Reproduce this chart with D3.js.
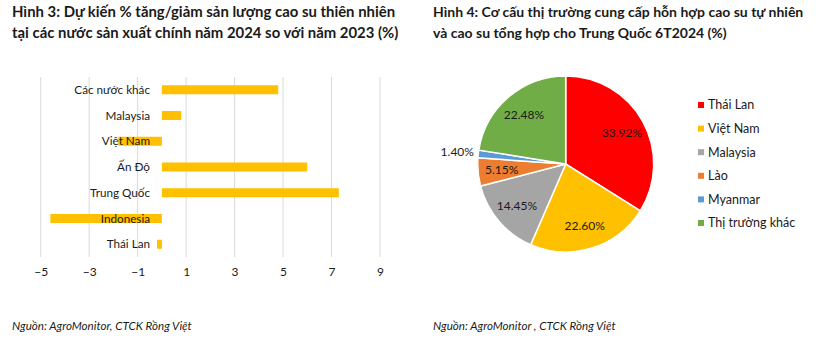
<!DOCTYPE html>
<html><head><meta charset="utf-8">
<script src="https://cdn.jsdelivr.net/npm/d3@7"></script>
<style>
body{margin:0;background:#fff;}
svg{display:block;font-family:Lato,"Noto Sans",sans-serif;}
</style></head>
<body>
<svg id="c" width="816" height="339"></svg>
<script>
// ---- data ----
const barCategories = ["Các nước khác","Malaysia","Việt Nam","Ấn Độ","Trung Quốc","Indonesia","Thái Lan"];
const barValues = [4.8, 0.8, -1.8, 6.0, 7.3, -4.6, -0.2];
const barTicks = [-5,-3,-1,1,3,5,7,9];

const pieLabels = ["Thái Lan","Việt Nam","Malaysia","Lào","Myanmar","Thị trường khác"];
const pieValues = [33.92, 22.60, 14.45, 5.15, 1.40, 22.48];
const pieColors = ["#FF0000","#FFC000","#A5A5A5","#ED7D31","#5B9BD5","#70AD47"];

const title1 = ["Hình 3: Dự kiến % tăng/giảm sản lượng cao su thiên nhiên","tại các nước sản xuất chính năm 2024 so với năm 2023 (%)"];
const title2 = ["Hình 4: Cơ cấu thị trường cung cấp hỗn hợp cao su tự nhiên","và cao su tổng hợp cho Trung Quốc 6T2024 (%)"];
const source1 = "Nguồn: AgroMonitor, CTCK Rồng Việt";
const source2 = "Nguồn: AgroMonitor , CTCK Rồng Việt";

const svg = d3.select("#c");

// titles
function title(lines, x, fs){
  const t = svg.append("text").attr("x",x).attr("y",17).attr("font-weight","bold")
    .attr("font-size",fs).attr("fill","#1a1a1a");
  lines.forEach((l,i)=>t.append("tspan").attr("x",x).attr("y",17+i*21).text(l));
}
title(title1, 12, 14.9);
title(title2, 433, 14);

// sources
[[source1,12],[source2,433]].forEach(([s,x])=>{
  svg.append("text").attr("x",x).attr("y",330).attr("font-style","italic")
    .attr("font-size",11.6).attr("fill","#1a1a1a").text(s);
});

// ---- bar chart ----
const x = d3.scaleLinear().domain([-5,9]).range([40.7,380]);
const y = d3.scaleBand().domain(barCategories).range([77,257]).paddingInner(0.65).paddingOuter(0.32);

const gGrid = svg.append("g");
gGrid.selectAll("line").data(barTicks).join("line")
  .attr("x1",d=>x(d)).attr("x2",d=>x(d)).attr("y1",77).attr("y2",257)
  .attr("stroke","#d9d9d9").attr("stroke-width",1);

const xAxis = svg.append("g").attr("transform","translate(0,257)")
  .call(d3.axisBottom(x).tickValues(barTicks).tickSize(0).tickPadding(10).tickFormat(d3.format("d")));
xAxis.select(".domain").remove();
xAxis.selectAll("text").attr("font-size",12).attr("fill","#1a1a1a").attr("font-family","Lato,'Noto Sans',sans-serif");

svg.append("g").selectAll("rect").data(barValues).join("rect")
  .attr("x",d=>x(Math.min(0,d))).attr("width",d=>Math.abs(x(d)-x(0)))
  .attr("y",(d,i)=>y(barCategories[i])).attr("height",y.bandwidth())
  .attr("fill","#FFC000");

svg.append("g").selectAll("text").data(barCategories).join("text")
  .attr("x",150).attr("y",d=>y(d)+y.bandwidth()/2).attr("dy","0.35em")
  .attr("text-anchor","end").attr("font-size",11.7).attr("fill","#1a1a1a").text(d=>d);

// ---- pie ----
const cx = 565.7, cy = 164, r = 88;
const pie = d3.pie().sort(null).value(d=>d)(pieValues);
const arc = d3.arc().innerRadius(0).outerRadius(r);
const labelArc = d3.arc().innerRadius(r*0.73).outerRadius(r*0.73);
const outArc = d3.arc().innerRadius(r*1.24).outerRadius(r*1.24);
const gp = svg.append("g").attr("transform",`translate(${cx},${cy})`);
gp.selectAll("path").data(pie).join("path")
  .attr("d",arc).attr("fill",(d,i)=>pieColors[i]).attr("stroke","#fff").attr("stroke-width",1.5);
gp.selectAll("text").data(pie).join("text")
  .attr("transform",d=>`translate(${(d.data<3?outArc:labelArc).centroid(d)})`)
  .attr("dy","0.35em").attr("text-anchor","middle").attr("font-size",12).attr("fill","#1a1a1a")
  .text(d=>d.data.toFixed(2)+"%");

// legend
const lg = svg.append("g");
pieLabels.forEach((l,i)=>{
  const yy = 105 + i*23.6;
  lg.append("rect").attr("x",698).attr("y",yy-3).attr("width",6).attr("height",6).attr("fill",pieColors[i]);
  lg.append("text").attr("x",708).attr("y",yy).attr("dy","0.35em").attr("font-size",12.5).attr("fill","#1a1a1a").text(l);
});
</script>
</body></html>
